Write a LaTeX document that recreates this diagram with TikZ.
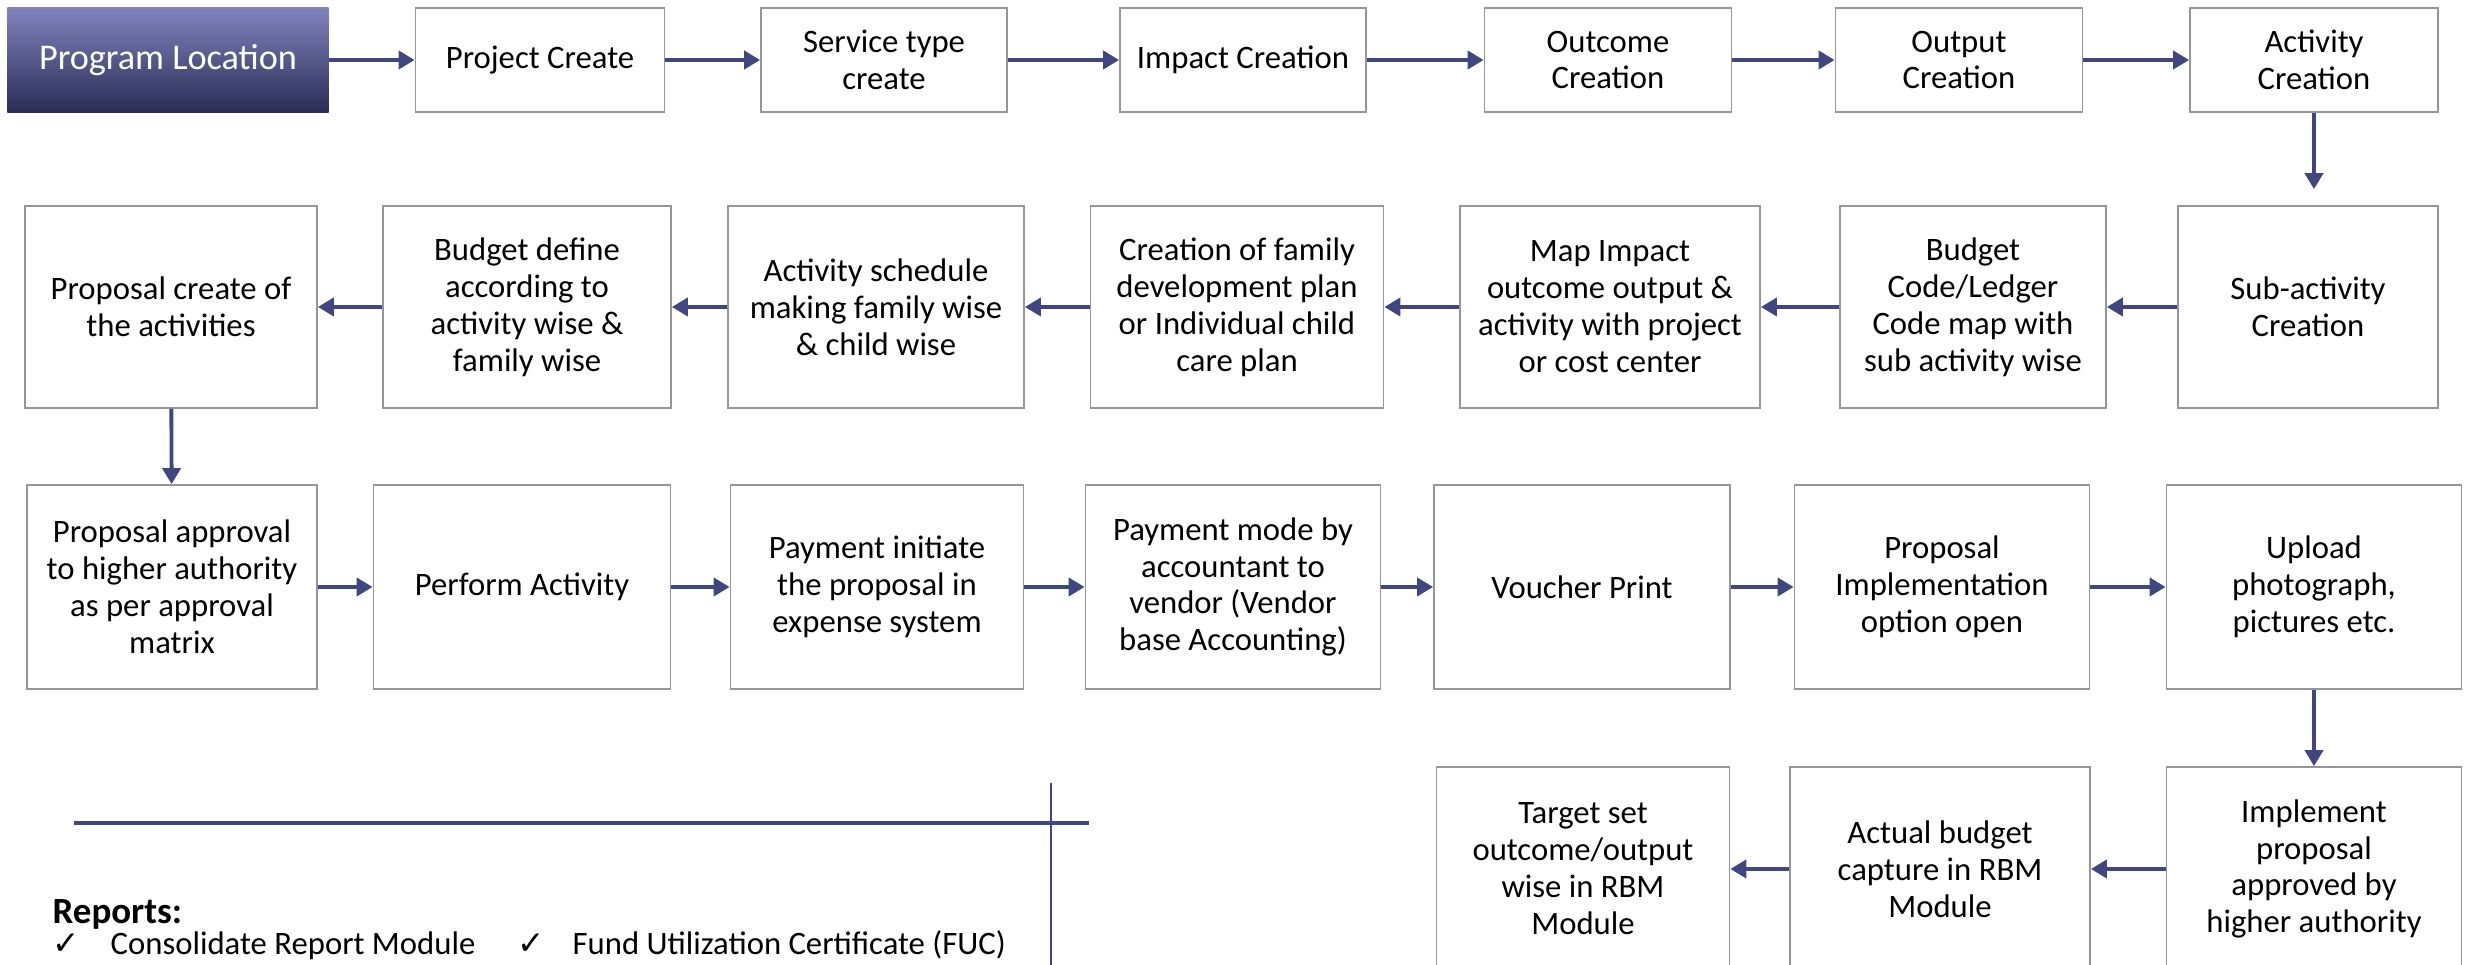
\documentclass[tikz,border=0pt]{standalone}
\usepackage{fontspec}
\setmainfont{Carlito}
\newfontfamily\symfont{DejaVu Sans}
\usetikzlibrary{arrows.meta}
\definecolor{flowblue}{RGB}{64,70,128}
\definecolor{boxgray}{RGB}{150,150,150}
\definecolor{progtop}{RGB}{128,132,190}
\definecolor{progbot}{RGB}{42,45,85}
\tikzset{
  box/.style={draw=boxgray, line width=0.45pt, fill=white, align=center, inner sep=0pt,
    font=\fontsize{9.3}{10.5}\selectfont},
  rowA/.style={minimum height=1.04cm},
  rowB/.style={minimum height=2.02cm},
  rowC/.style={minimum height=2.04cm},
  flow/.style={draw=flowblue, line width=1.1pt, -{Triangle[length=0.16cm,width=0.18cm]}},
  note/.style={anchor=base west, inner sep=0pt, font=\fontsize{9.3}{10.5}\selectfont},
}

\begin{document}
\begin{tikzpicture}[x=0.01cm, y=-0.01cm]
  \useasboundingbox (0,0) rectangle (2471,965);
  \clip (0,0) rectangle (2471,965);

  % first row: setup chain
  \node [box, rowA, minimum width=3.21cm, draw=none, top color=progtop, bottom color=progbot,
    text=white, font=\fontsize{10.3}{12}\selectfont] (prog) at (168,60) {Program Location};
  \node [box, rowA, minimum width=2.49cm] (proj) at (540,60) {Project Create};
  \node [box, rowA, minimum width=2.46cm] (serv) at (884,60) {Service type\\create};
  \node [box, rowA, minimum width=2.46cm] (imp) at (1243,60) {Impact Creation};
  \node [box, rowA, minimum width=2.47cm] (outc) at (1608,60) {Outcome\\Creation};
  \node [box, rowA, minimum width=2.47cm] (outp) at (1959,60) {Output\\Creation};
  \node [box, rowA, minimum width=2.48cm] (act) at (2314,60) {Activity\\Creation};

  % second row: planning, right to left
  \node [box, rowB, minimum width=2.92cm] (propc) at (171,307) {Proposal create of\\the activities};
  \node [box, rowB, minimum width=2.88cm] (budget) at (527,307) {Budget define\\according to\\activity wise \&\\family wise};
  \node [box, rowB, minimum width=2.96cm] (sched) at (876,307) {Activity schedule\\making family wise\\\& child wise};
  \node [box, rowB, minimum width=2.93cm] (famplan) at (1237,307) {Creation of family\\development plan\\or Individual child\\care plan};
  \node [box, rowB, minimum width=3.00cm] (mapimp) at (1610,307) {Map Impact\\outcome output \&\\activity with project\\or cost center};
  \node [box, rowB, minimum width=2.66cm] (ledger) at (1973,307) {Budget\\Code/Ledger\\Code map with\\sub activity wise};
  \node [box, rowB, minimum width=2.60cm] (sub) at (2308,307) {Sub-activity\\Creation};

  % third row: execution
  \node [box, rowC, minimum width=2.90cm] (propa) at (172,587) {Proposal approval\\to higher authority\\as per approval\\matrix};
  \node [box, rowC, minimum width=2.97cm] (perf) at (522,587) {Perform Activity};
  \node [box, rowC, minimum width=2.93cm] (payi) at (877,587) {Payment initiate\\the proposal in\\expense system};
  \node [box, rowC, minimum width=2.95cm] (paym) at (1233,587) {Payment mode by\\accountant to\\vendor (Vendor\\base Accounting)};
  \node [box, rowC, minimum width=2.96cm] (vouch) at (1582,587) {Voucher Print};
  \node [box, rowC, minimum width=2.95cm] (impl) at (1942,587) {Proposal\\Implementation\\option open};
  \node [box, rowC, minimum width=2.95cm] (upload) at (2314,587) {Upload\\photograph,\\pictures etc.};

  % fourth row: closing, cut by the page edge
  \node [box, rowC, minimum width=2.93cm] (target) at (1583,869) {Target set\\outcome/output\\wise in RBM\\Module};
  \node [box, rowC, minimum width=3.00cm] (actual) at (1940,869) {Actual budget\\capture in RBM\\Module};
  \node [box, rowC, minimum width=2.95cm] (apprv) at (2314,869) {Implement\\proposal\\approved by\\higher authority};

  % arrows
  \foreach \a/\b in {prog/proj, proj/serv, serv/imp, imp/outc, outc/outp, outp/act,
      sub/ledger, ledger/mapimp, mapimp/famplan, famplan/sched, sched/budget, budget/propc,
      propa/perf, perf/payi, payi/paym, paym/vouch, vouch/impl, impl/upload,
      apprv/actual, actual/target}
    \draw [flow] (\a) -- (\b);
  \draw [flow, shorten >=0.16cm] (act) -- (act |- sub.north);
  \draw [flow] (propc) -- (propa);
  \draw [flow] (upload) -- (apprv);

  % divider lines
  \draw [flowblue, line width=0.9pt] (74,823) -- (1089,823);
  \draw [flowblue, line width=0.5pt] (1051,783) -- (1051,965);

  % reports
  \node [note, font=\fontsize{10.5}{12}\selectfont\bfseries] (rep) at (52,924) {Reports:};
  \node [note] (chka) at (52,955) {\symfont ✓};
  \node [note] (repa) at (110,955) {Consolidate Report Module};
  \node [note] (chkb) at (517,955) {\symfont ✓};
  \node [note] (repb) at (572,955) {Fund Utilization Certificate (FUC)};
\end{tikzpicture}
\end{document}
